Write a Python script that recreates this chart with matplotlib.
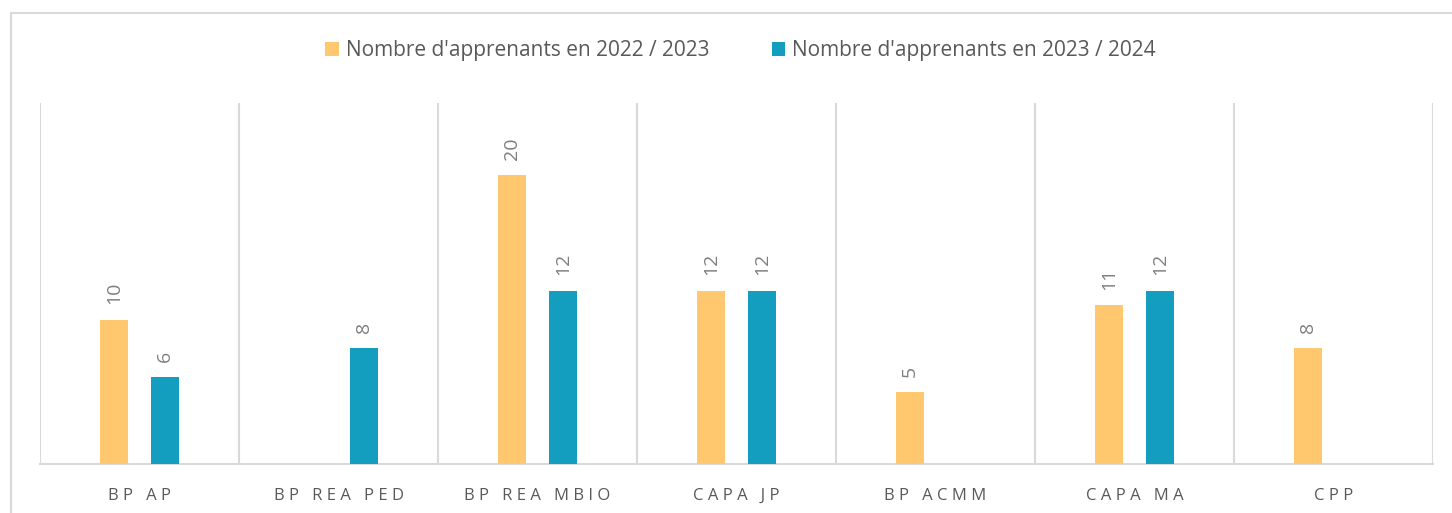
import matplotlib
matplotlib.use("Agg")
import matplotlib.pyplot as plt
import numpy as np
from matplotlib.patches import Rectangle

CATEGORIES = ["BP AP", "BP REA PED", "BP REA MBIO", "CAPA JP", "BP ACMM", "CAPA MA", "CPP"]
SERIES_NAMES = ["Nombre d'apprenants en 2022 / 2023", "Nombre d'apprenants en 2023 / 2024"]
VALUES_2022 = [10, None, 20, 12, 5, 11, 8]
VALUES_2023 = [6, 8, 12, 12, None, 12, None]
COLORS = ["#FFC86E", "#139EC0"]
GRID = "#D9D9D9"
TEXT = "#595959"

plt.rcParams["font.family"] = ["Open Sans", "DejaVu Sans"]


def spaced(label):
    return " ".join(label)


fig = plt.figure(figsize=(14.52, 5.13), dpi=100)
ax = fig.add_axes([40 / 1452, 1 - 464 / 513, 1393 / 1452, 361 / 513])

x = np.arange(len(CATEGORIES))
width = 0.136
offset = 0.128
for values, color, name, sign in zip((VALUES_2022, VALUES_2023), COLORS, SERIES_NAMES, (-1, 1)):
    heights = [v if v is not None else 0 for v in values]
    bars = ax.bar(x + sign * offset, heights, width=width, color=color, label=name, zorder=3)
    for bar, v in zip(bars, values):
        if v is None:
            continue
        ax.annotate(str(v), (bar.get_x() + bar.get_width() / 2, bar.get_height()),
                    xytext=(0, 11), textcoords="offset points", rotation=90,
                    ha="center", va="bottom", fontsize=14, color="#7F7F7F")

ax.set_xlim(-0.5, len(CATEGORIES) - 0.5)
ax.set_ylim(0, 25)
ax.set_yticks([])
for b in np.arange(-0.5, len(CATEGORIES), 1.0):
    ax.axvline(b, color=GRID, linewidth=1.5, zorder=1)
for side in ("top", "left", "right"):
    ax.spines[side].set_visible(False)
ax.spines["bottom"].set_color(GRID)
ax.spines["bottom"].set_linewidth(1.5)
ax.set_xticks(x, [spaced(c) for c in CATEGORIES])
ax.tick_params(axis="x", length=0, pad=17, labelsize=12, labelcolor=TEXT)

fig.legend(loc="center", bbox_to_anchor=(0.51, 1 - 51 / 513), ncol=2, frameon=False,
           fontsize=15, labelcolor=TEXT, handlelength=0.65, handleheight=0.65,
           handletextpad=0.33, columnspacing=3.0)

fig.patches.append(Rectangle((10.5 / 1452, -0.1), 1.2, 1 - 13 / 513 + 0.1, transform=fig.transFigure,
                             fill=False, edgecolor=GRID, linewidth=1.5))

fig.savefig("out.png", dpi=100, facecolor="white")
